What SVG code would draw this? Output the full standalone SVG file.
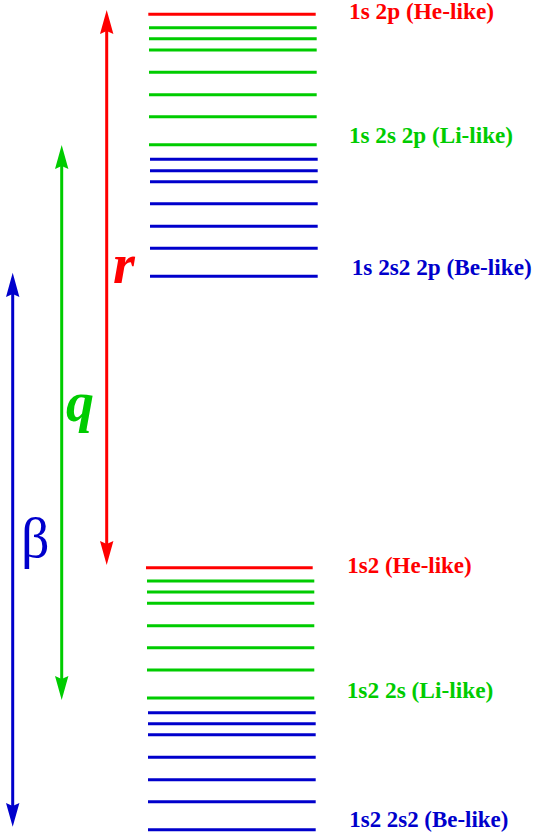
<svg xmlns="http://www.w3.org/2000/svg" width="534" height="837" viewBox="0 0 534 837">
<style>
.lv{stroke-width:3;fill:none}
.r{stroke:#ff0000}.g{stroke:#00cc00}.b{stroke:#0000cc}
.rf{fill:#ff0000}.gf{fill:#00cc00}.bf{fill:#0000cc}
.lbl{font-family:'Liberation Serif','DejaVu Serif','Times New Roman',serif;font-weight:bold;font-size:23px}
.sym{font-family:'Liberation Serif','DejaVu Serif','Times New Roman',serif;font-size:56px}
</style>
<rect width="534" height="837" fill="#ffffff"/>
<g id="connectors">
  <g id="arrow-r">
    <line class="r" x1="106.7" y1="30" x2="106.7" y2="546" stroke-width="3"/>
    <polygon class="rf" points="106.7,10 100,34 106.7,31 113.4,34"/>
    <polygon class="rf" points="106.7,565 100,541 106.7,544 113.4,541"/>
  </g>
  <g id="arrow-q">
    <line class="g" x1="61.7" y1="165" x2="61.7" y2="680" stroke-width="3"/>
    <polygon class="gf" points="61.7,145 55,169 61.7,166 68.4,169"/>
    <polygon class="gf" points="61.7,700 55,676 61.7,679 68.4,676"/>
  </g>
  <g id="arrow-beta">
    <line class="b" x1="12.7" y1="292" x2="12.7" y2="807" stroke-width="3"/>
    <polygon class="bf" points="12.7,272.7 6,297 12.7,294 19.4,297"/>
    <polygon class="bf" points="12.7,826.7 6,803 12.7,806 19.4,803"/>
  </g>
</g>
<g id="upper-levels">
  <line class="lv r" x1="148.3" y1="14.3" x2="315.7" y2="14.3"/>
  <line class="lv g" x1="149" y1="27.7" x2="316.7" y2="27.7"/>
  <line class="lv g" x1="149" y1="38.7" x2="316.7" y2="38.7"/>
  <line class="lv g" x1="149" y1="50" x2="316.7" y2="50"/>
  <line class="lv g" x1="149" y1="72.3" x2="316.7" y2="72.3"/>
  <line class="lv g" x1="149" y1="94.7" x2="316.7" y2="94.7"/>
  <line class="lv g" x1="149" y1="116.7" x2="316.7" y2="116.7"/>
  <line class="lv g" x1="149" y1="144.7" x2="316.7" y2="144.7"/>
  <line class="lv b" x1="150" y1="159.3" x2="317.7" y2="159.3"/>
  <line class="lv b" x1="150" y1="170.7" x2="317.7" y2="170.7"/>
  <line class="lv b" x1="150" y1="181.7" x2="317.7" y2="181.7"/>
  <line class="lv b" x1="150" y1="203.7" x2="317.7" y2="203.7"/>
  <line class="lv b" x1="150" y1="226.3" x2="317.7" y2="226.3"/>
  <line class="lv b" x1="150" y1="248.3" x2="317.7" y2="248.3"/>
  <line class="lv b" x1="150" y1="276.3" x2="317.7" y2="276.3"/>
</g>
<g id="lower-levels">
  <line class="lv r" x1="146" y1="567.7" x2="312.7" y2="567.7"/>
  <line class="lv g" x1="147" y1="581" x2="314.3" y2="581"/>
  <line class="lv g" x1="147" y1="592" x2="314.3" y2="592"/>
  <line class="lv g" x1="147" y1="603.3" x2="314.3" y2="603.3"/>
  <line class="lv g" x1="147" y1="625.7" x2="314.3" y2="625.7"/>
  <line class="lv g" x1="147" y1="647.7" x2="314.3" y2="647.7"/>
  <line class="lv g" x1="147" y1="670" x2="314.3" y2="670"/>
  <line class="lv g" x1="147" y1="698" x2="314.3" y2="698"/>
  <line class="lv b" x1="148" y1="712.7" x2="315.7" y2="712.7"/>
  <line class="lv b" x1="148" y1="723.7" x2="315.7" y2="723.7"/>
  <line class="lv b" x1="148" y1="734.7" x2="315.7" y2="734.7"/>
  <line class="lv b" x1="148" y1="757.3" x2="315.7" y2="757.3"/>
  <line class="lv b" x1="148" y1="779.7" x2="315.7" y2="779.7"/>
  <line class="lv b" x1="148" y1="801.7" x2="315.7" y2="801.7"/>
  <line class="lv b" x1="148" y1="829.7" x2="315.7" y2="829.7"/>
</g>
<g id="label-he-upper"><text class="lbl rf" x="349" y="18.5" textLength="145" lengthAdjust="spacingAndGlyphs">1s 2p (He-like)</text></g>
<g id="label-li-upper"><text class="lbl gf" x="349" y="143" textLength="164" lengthAdjust="spacingAndGlyphs">1s 2s 2p (Li-like)</text></g>
<g id="label-be-upper"><text class="lbl bf" x="351.7" y="275" textLength="180" lengthAdjust="spacingAndGlyphs">1s 2s2 2p (Be-like)</text></g>
<g id="label-he-lower"><text class="lbl rf" x="347.3" y="572.5" textLength="124.4" lengthAdjust="spacingAndGlyphs">1s2 (He-like)</text></g>
<g id="label-li-lower"><text class="lbl gf" x="346.7" y="698" textLength="146.6" lengthAdjust="spacingAndGlyphs">1s2 2s (Li-like)</text></g>
<g id="label-be-lower"><text class="lbl bf" x="349.3" y="826.5" textLength="159" lengthAdjust="spacingAndGlyphs">1s2 2s2 (Be-like)</text></g>
<g id="label-r"><text class="sym rf" x="113" y="283" font-weight="bold" font-style="italic">r</text></g>
<g id="label-q"><text class="sym gf" x="66" y="421" font-weight="bold" font-style="italic">q</text></g>
<g id="label-beta"><text class="sym bf" x="21" y="557" font-size="52">β</text></g>
</svg>
